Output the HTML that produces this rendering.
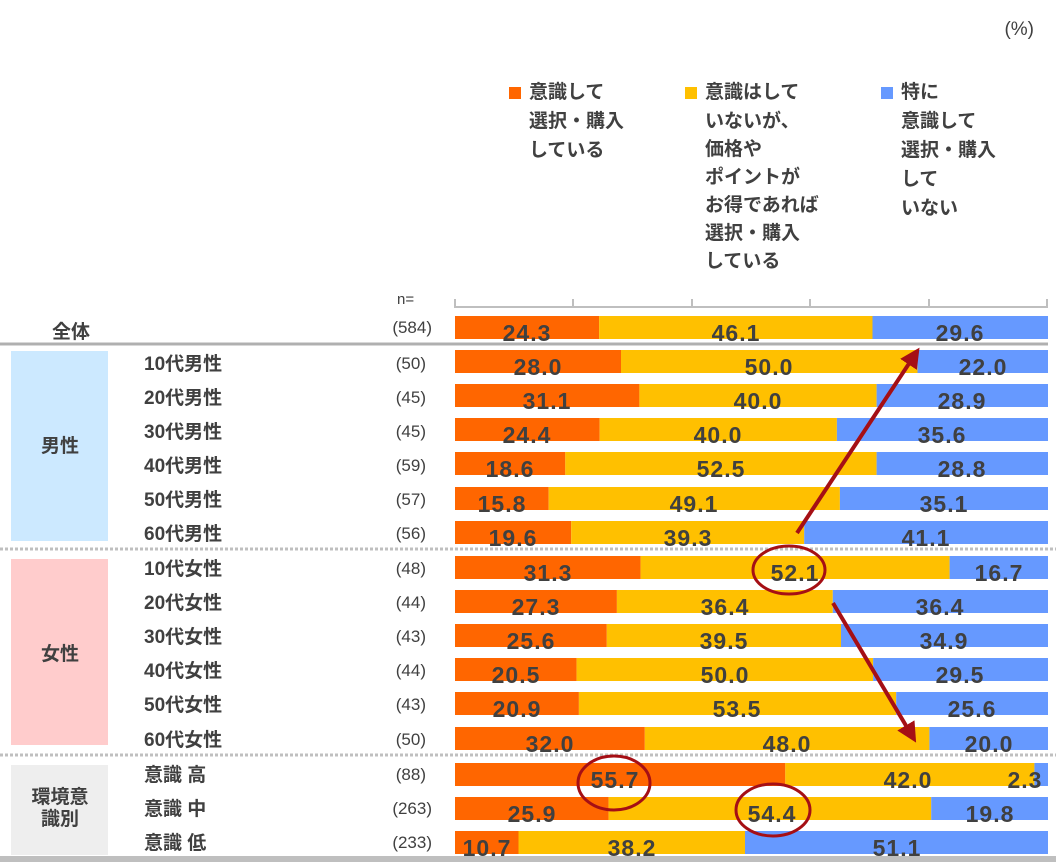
<!DOCTYPE html>
<html><head><meta charset="utf-8"><style>
body{margin:0;background:#fff}
svg{display:block;font-family:"Liberation Sans","Noto Sans CJK JP",sans-serif}
.v{font-size:23px;font-weight:bold;fill:#404040;text-anchor:middle;letter-spacing:1px}
.r{font-size:19px;font-weight:bold;fill:#404040}
.n{font-size:17px;fill:#404040;text-anchor:end}
.lg{font-size:19px;font-weight:bold;fill:#404040}
</style></head><body>
<svg width="1056" height="862" viewBox="0 0 1056 862">
<text x="1034" y="35" font-size="19" fill="#404040" text-anchor="end">(%)</text>
<rect x="509" y="87" width="12" height="12" fill="#FF6600"/>
<text class="lg"><tspan x="529" y="98">意識して</tspan><tspan x="529" y="127">選択・購入</tspan><tspan x="529" y="156">している</tspan></text>
<rect x="685" y="87" width="12" height="12" fill="#FFC000"/>
<text class="lg"><tspan x="705" y="98">意識はして</tspan><tspan x="705" y="127">いないが、</tspan><tspan x="705" y="155">価格や</tspan><tspan x="705" y="183">ポイントが</tspan><tspan x="705" y="211">お得であれば</tspan><tspan x="705" y="239">選択・購入</tspan><tspan x="705" y="267">している</tspan></text>
<rect x="881" y="87" width="12" height="12" fill="#6699FF"/>
<text class="lg"><tspan x="901" y="98">特に</tspan><tspan x="901" y="127">意識して</tspan><tspan x="901" y="156">選択・購入</tspan><tspan x="901" y="185">して</tspan><tspan x="901" y="214">いない</tspan></text>
<path d="M455 299V307H1047V299M573 299V307M692 299V307M810 299V307M929 299V307" stroke="#bfbfbf" stroke-width="2" fill="none"/>
<text x="397" y="304" font-size="15" fill="#404040">n=</text>
<rect x="11" y="351" width="97" height="190" fill="#CCE9FF"/>
<rect x="11" y="559" width="97" height="186" fill="#FFCCCC"/>
<rect x="11" y="765" width="97" height="90" fill="#EEEEEE"/>
<text x="60" y="452" class="r" text-anchor="middle">男性</text>
<text x="60" y="660" class="r" text-anchor="middle">女性</text>
<text x="60" y="803" class="r" text-anchor="middle" font-size="17">環境意</text>
<text x="60" y="825" class="r" text-anchor="middle" font-size="17">識別</text>
<text x="52" y="338" class="r" font-size="20">全体</text>
<line x1="0" y1="344" x2="1048" y2="344" stroke="#b0b0b0" stroke-width="3"/>
<line x1="0" y1="549" x2="1056" y2="549" stroke="#bfbfbf" stroke-width="3" stroke-dasharray="3,2"/>
<line x1="0" y1="755" x2="1056" y2="755" stroke="#bfbfbf" stroke-width="3" stroke-dasharray="3,2"/>
<g>
<rect x="455" y="316" width="144.1" height="23" fill="#FF6600"/><rect x="599.1" y="316" width="273.4" height="23" fill="#FFC000"/><rect x="872.5" y="316" width="175.5" height="23" fill="#6699FF"/>
<text class="n" x="432" y="333">(584)</text>
<text class="v" x="527" y="341">24.3</text><text class="v" x="736" y="341">46.1</text><text class="v" x="960" y="341">29.6</text>

<rect x="455" y="350" width="166" height="23" fill="#FF6600"/><rect x="621" y="350" width="296.5" height="23" fill="#FFC000"/><rect x="917.5" y="350" width="130.5" height="23" fill="#6699FF"/>
<text class="r" x="144" y="370">10代男性</text><text class="n" x="426" y="369">(50)</text>
<text class="v" x="538" y="375">28.0</text><text class="v" x="769" y="375">50.0</text><text class="v" x="983" y="375">22.0</text>

<rect x="455" y="384" width="184.4" height="23" fill="#FF6600"/><rect x="639.4" y="384" width="237.2" height="23" fill="#FFC000"/><rect x="876.6" y="384" width="171.4" height="23" fill="#6699FF"/>
<text class="r" x="144" y="404">20代男性</text><text class="n" x="426" y="403">(45)</text>
<text class="v" x="547" y="409">31.1</text><text class="v" x="758" y="409">40.0</text><text class="v" x="962" y="409">28.9</text>

<rect x="455" y="418" width="144.7" height="23" fill="#FF6600"/><rect x="599.7" y="418" width="237.2" height="23" fill="#FFC000"/><rect x="836.9" y="418" width="211.1" height="23" fill="#6699FF"/>
<text class="r" x="144" y="438">30代男性</text><text class="n" x="426" y="437">(45)</text>
<text class="v" x="527" y="443">24.4</text><text class="v" x="718" y="443">40.0</text><text class="v" x="942" y="443">35.6</text>

<rect x="455" y="452" width="110.3" height="23" fill="#FF6600"/><rect x="565.3" y="452" width="311.3" height="23" fill="#FFC000"/><rect x="876.6" y="452" width="171.4" height="23" fill="#6699FF"/>
<text class="r" x="144" y="472">40代男性</text><text class="n" x="426" y="471">(59)</text>
<text class="v" x="510" y="477">18.6</text><text class="v" x="721" y="477">52.5</text><text class="v" x="962" y="477">28.8</text>

<rect x="455" y="487" width="93.7" height="23" fill="#FF6600"/><rect x="548.7" y="487" width="291.2" height="23" fill="#FFC000"/><rect x="839.9" y="487" width="208.1" height="23" fill="#6699FF"/>
<text class="r" x="144" y="506">50代男性</text><text class="n" x="426" y="505">(57)</text>
<text class="v" x="502" y="512">15.8</text><text class="v" x="694" y="512">49.1</text><text class="v" x="944" y="512">35.1</text>

<rect x="455" y="521" width="116.2" height="23" fill="#FF6600"/><rect x="571.2" y="521" width="233" height="23" fill="#FFC000"/><rect x="804.2" y="521" width="243.8" height="23" fill="#6699FF"/>
<text class="r" x="144" y="540">60代男性</text><text class="n" x="426" y="539">(56)</text>
<text class="v" x="513" y="546">19.6</text><text class="v" x="688" y="546">39.3</text><text class="v" x="926" y="546">41.1</text>

<rect x="455" y="556" width="185.6" height="23" fill="#FF6600"/><rect x="640.6" y="556" width="309" height="23" fill="#FFC000"/><rect x="949.6" y="556" width="98.4" height="23" fill="#6699FF"/>
<text class="r" x="144" y="575">10代女性</text><text class="n" x="426" y="574">(48)</text>
<text class="v" x="548" y="581">31.3</text><text class="v" x="795" y="581">52.1</text><text class="v" x="999" y="581">16.7</text>

<rect x="455" y="590" width="161.9" height="23" fill="#FF6600"/><rect x="616.9" y="590" width="215.9" height="23" fill="#FFC000"/><rect x="832.8" y="590" width="215.2" height="23" fill="#6699FF"/>
<text class="r" x="144" y="609">20代女性</text><text class="n" x="426" y="608">(44)</text>
<text class="v" x="536" y="615">27.3</text><text class="v" x="725" y="615">36.4</text><text class="v" x="940" y="615">36.4</text>

<rect x="455" y="624" width="151.8" height="23" fill="#FF6600"/><rect x="606.8" y="624" width="234.2" height="23" fill="#FFC000"/><rect x="841" y="624" width="207" height="23" fill="#6699FF"/>
<text class="r" x="144" y="643">30代女性</text><text class="n" x="426" y="642">(43)</text>
<text class="v" x="531" y="649">25.6</text><text class="v" x="724" y="649">39.5</text><text class="v" x="944" y="649">34.9</text>

<rect x="455" y="658" width="121.6" height="23" fill="#FF6600"/><rect x="576.6" y="658" width="296.5" height="23" fill="#FFC000"/><rect x="873.1" y="658" width="174.9" height="23" fill="#6699FF"/>
<text class="r" x="144" y="677">40代女性</text><text class="n" x="426" y="676">(44)</text>
<text class="v" x="516" y="683">20.5</text><text class="v" x="725" y="683">50.0</text><text class="v" x="960" y="683">29.5</text>

<rect x="455" y="692" width="123.9" height="23" fill="#FF6600"/><rect x="578.9" y="692" width="317.3" height="23" fill="#FFC000"/><rect x="896.2" y="692" width="151.8" height="23" fill="#6699FF"/>
<text class="r" x="144" y="711">50代女性</text><text class="n" x="426" y="710">(43)</text>
<text class="v" x="517" y="717">20.9</text><text class="v" x="737" y="717">53.5</text><text class="v" x="972" y="717">25.6</text>

<rect x="455" y="727" width="189.8" height="23" fill="#FF6600"/><rect x="644.8" y="727" width="284.6" height="23" fill="#FFC000"/><rect x="929.4" y="727" width="118.6" height="23" fill="#6699FF"/>
<text class="r" x="144" y="746">60代女性</text><text class="n" x="426" y="745">(50)</text>
<text class="v" x="550" y="752">32.0</text><text class="v" x="787" y="752">48.0</text><text class="v" x="989" y="752">20.0</text>

<rect x="455" y="763" width="330.3" height="23" fill="#FF6600"/><rect x="785.3" y="763" width="249.1" height="23" fill="#FFC000"/><rect x="1034.4" y="763" width="13.6" height="23" fill="#6699FF"/>
<text class="r" x="144" y="781">意識 高</text><text class="n" x="426" y="780">(88)</text>
<text class="v" x="615" y="788">55.7</text><text class="v" x="908" y="788">42.0</text><text class="v" x="1025" y="788">2.3</text>

<rect x="455" y="797" width="153.6" height="23" fill="#FF6600"/><rect x="608.6" y="797" width="322.6" height="23" fill="#FFC000"/><rect x="931.2" y="797" width="116.8" height="23" fill="#6699FF"/>
<text class="r" x="144" y="815">意識 中</text><text class="n" x="432" y="814">(263)</text>
<text class="v" x="532" y="822">25.9</text><text class="v" x="772" y="822">54.4</text><text class="v" x="990" y="822">19.8</text>

<rect x="455" y="831" width="63.5" height="23" fill="#FF6600"/><rect x="518.5" y="831" width="226.5" height="23" fill="#FFC000"/><rect x="745" y="831" width="303" height="23" fill="#6699FF"/>
<text class="r" x="144" y="849">意識 低</text><text class="n" x="432" y="848">(233)</text>
<text class="v" x="487" y="856">10.7</text><text class="v" x="632" y="856">38.2</text><text class="v" x="897" y="856">51.1</text>
</g>
<rect x="0" y="856" width="1056" height="6" fill="#bfbfbf"/>
<defs><marker id="ah" markerWidth="5" markerHeight="5" refX="2.5" refY="2.5" orient="auto" markerUnits="strokeWidth"><path d="M0,0L5,2.5L0,5z" fill="#A50F15"/></marker></defs>
<line x1="797" y1="533" x2="914" y2="356" stroke="#A50F15" stroke-width="4" marker-end="url(#ah)"/>
<line x1="833" y1="603" x2="911" y2="734" stroke="#A50F15" stroke-width="4" marker-end="url(#ah)"/>
<ellipse cx="789" cy="570" rx="36" ry="24" fill="none" stroke="#A50F15" stroke-width="3"/>
<ellipse cx="614" cy="783" rx="36" ry="27" fill="none" stroke="#A50F15" stroke-width="3"/>
<ellipse cx="773" cy="810" rx="37" ry="26" fill="none" stroke="#A50F15" stroke-width="3"/>
</svg>
</body></html>
